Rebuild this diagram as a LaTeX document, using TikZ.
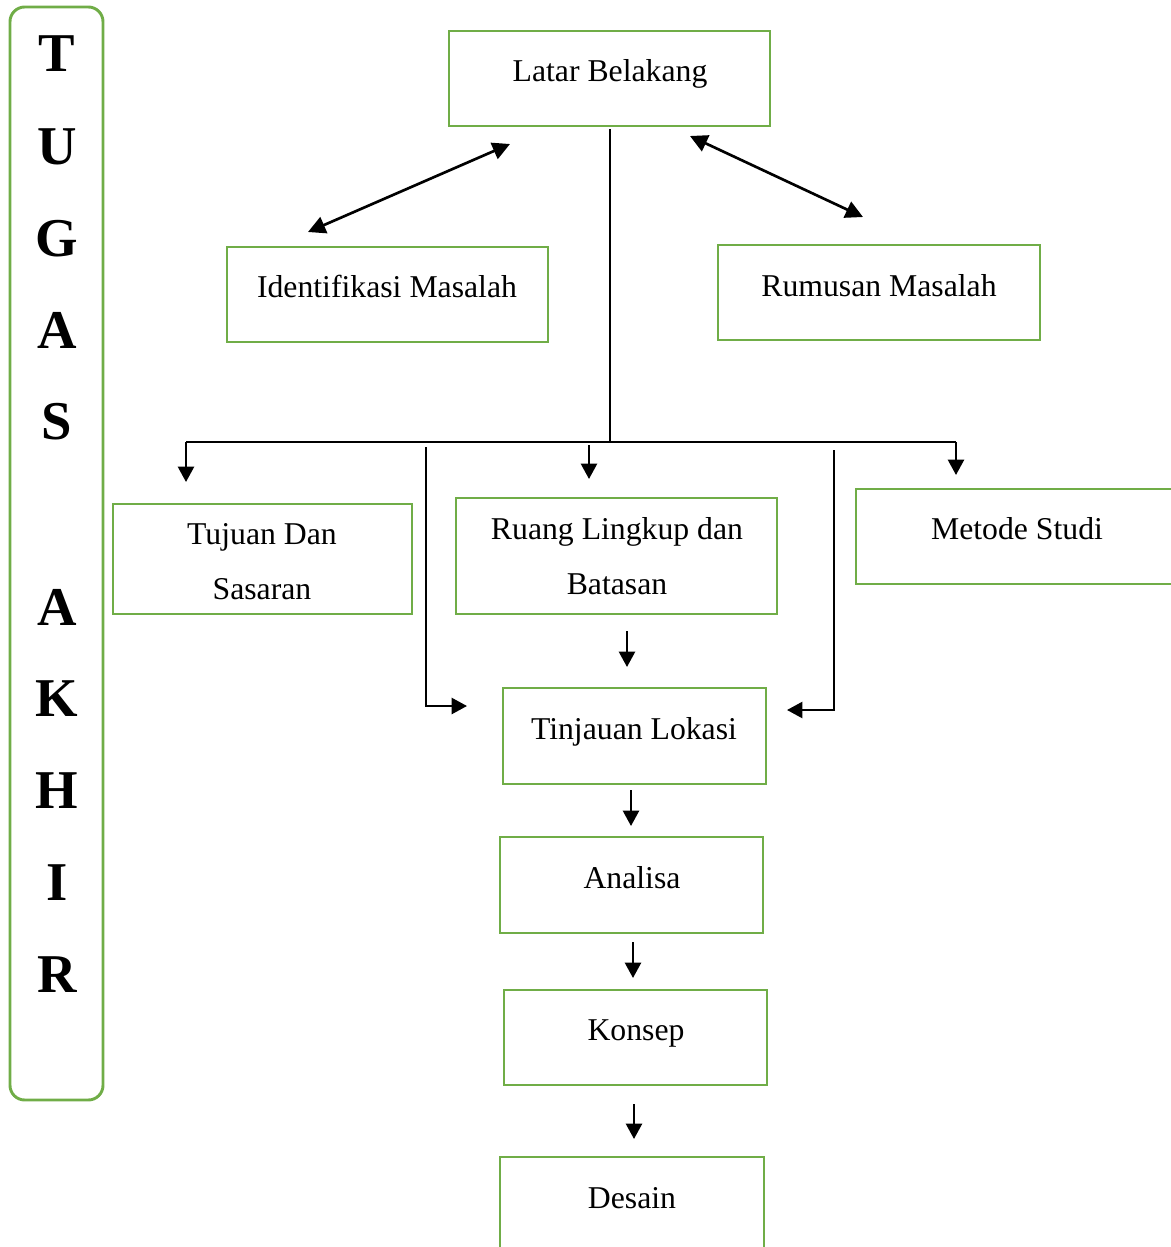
\documentclass[tikz,border=0pt]{standalone}
\usepackage{fontspec}
\setmainfont{Liberation Serif}
\usetikzlibrary{arrows.meta,fit}
\definecolor{grn}{HTML}{70AD47}
\begin{document}
\begin{tikzpicture}[x=0.75pt,y=-0.75pt,
 box/.style={draw=grn,line width=2.2pt,inner sep=0pt},
 lbl/.style={font=\fontsize{23.8}{28}\selectfont,inner sep=0pt,anchor=base},
 big/.style={font=\fontsize{41}{48}\selectfont\bfseries,inner sep=0pt,anchor=center},
 conn/.style={line width=1.8pt,-{Triangle[length=11.5pt,width=12pt]}},
 dconn/.style={line width=2pt,{Triangle[length=13pt,width=13pt]}-{Triangle[length=13pt,width=13pt]}},
 thinline/.style={line width=1.1pt}]
\useasboundingbox (0,0) rectangle (1171,1247);
\clip (0,0) rectangle (1171,1247);

% left vertical title box
\node[box,rounded corners=11pt,fit={(10,7) (103,1100)}] (ta) {};
\foreach \l/\y [count=\i] in {T/54,U/147,G/239,A/330,S/422,A/607,K/699,H/791,I/883,R/975}
  \node[big] (t\i) at (57,\y) {\l};

% boxes
\node[box,fit={(449,31) (770,126)}] (lb) {};
\node[box,fit={(227,247) (548,342)}] (im) {};
\node[box,fit={(718,245) (1040,340)}] (rm) {};
\node[box,fit={(113,504) (412,614)}] (ts) {};
\node[box,fit={(456,498) (777,614)}] (rl) {};
\node[box,fit={(856,489) (1185,584)}] (ms) {};
\node[box,fit={(503,688) (766,784)}] (tl) {};
\node[box,fit={(500,837) (763,933)}] (an) {};
\node[box,fit={(504,990) (767,1085)}] (ks) {};
\node[box,fit={(500,1157) (764,1260)}] (ds) {};

% labels
\node[lbl] (lbt) at (610,81) {Latar Belakang};
\node[lbl] (imt) at (387,297) {Identifikasi Masalah};
\node[lbl] (rmt) at (879,296) {Rumusan Masalah};
\node[lbl] (tst1) at (262,544) {Tujuan Dan};
\node[lbl] (tst2) at (262,599) {Sasaran};
\node[lbl] (rlt1) at (617,539) {Ruang Lingkup dan};
\node[lbl] (rlt2) at (617,594) {Batasan};
\node[lbl] (mst) at (1017,539) {Metode Studi};
\node[lbl] (tlt) at (634,739) {Tinjauan Lokasi};
\node[lbl] (ant) at (632,888) {Analisa};
\node[lbl] (kst) at (636,1040) {Konsep};
\node[lbl] (dst) at (632,1208) {Desain};

% coordinates
\coordinate (d1a) at (510,144); \coordinate (d1b) at (308,232);
\coordinate (d2a) at (690,136); \coordinate (d2b) at (863,217);
\coordinate (vtop) at (610,129); \coordinate (hub) at (610,443);
\coordinate (busL) at (186,442); \coordinate (busR) at (956,442);
\coordinate (a1e) at (186,482);
\coordinate (a2s) at (589,445); \coordinate (a2e) at (589,479);
\coordinate (a3e) at (956,475);
\coordinate (l1s) at (426,447); \coordinate (l1c) at (426,706); \coordinate (l1e) at (467,706);
\coordinate (r1s) at (834,450); \coordinate (r1c) at (834,710); \coordinate (r1e) at (787,710);
\coordinate (s1a) at (627,631); \coordinate (s1b) at (627,667);
\coordinate (s2a) at (631,790); \coordinate (s2b) at (631,826);
\coordinate (s3a) at (633,942); \coordinate (s3b) at (633,978);
\coordinate (s4a) at (634,1104); \coordinate (s4b) at (634,1139);

% connectors
\draw[dconn] (d1a) -- (d1b);
\draw[dconn] (d2a) -- (d2b);
\draw[thinline] (vtop) -- (hub);
\draw[thinline] (busL) -- (busR);
\draw[conn] (busL) -- (a1e);
\draw[conn] (a2s) -- (a2e);
\draw[conn] (busR) -- (a3e);
\draw[conn] (l1s) -- (l1c) -- (l1e);
\draw[conn] (r1s) -- (r1c) -- (r1e);
\draw[conn] (s1a) -- (s1b);
\draw[conn] (s2a) -- (s2b);
\draw[conn] (s3a) -- (s3b);
\draw[conn] (s4a) -- (s4b);
\end{tikzpicture}
\end{document}
